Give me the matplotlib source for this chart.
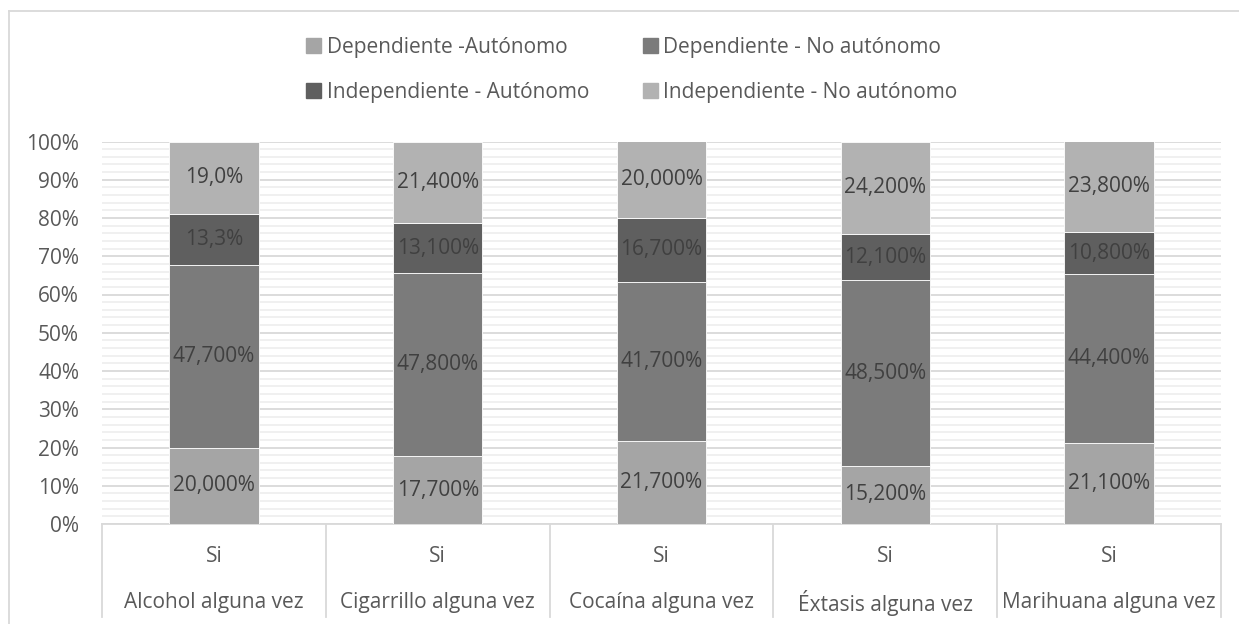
import matplotlib.pyplot as plt
from matplotlib.lines import Line2D
from matplotlib.patches import Patch
from matplotlib.ticker import MultipleLocator, PercentFormatter

# data (percent)
categories = ['Alcohol alguna vez', 'Cigarrillo alguna vez', 'Cocaína alguna vez',
              'Éxtasis alguna vez', 'Marihuana alguna vez']
sub_label = 'Si'
series_names = ['Dependiente -Autónomo', 'Dependiente - No autónomo',
                'Independiente - Autónomo', 'Independiente - No autónomo']
dep_aut = [20.0, 17.7, 21.7, 15.2, 21.1]
dep_noaut = [47.7, 47.8, 41.7, 48.5, 44.4]
ind_aut = [13.3, 13.1, 16.7, 12.1, 10.8]
ind_noaut = [19.0, 21.4, 20.0, 24.2, 23.8]
labels_dep_aut = ['20,000%', '17,700%', '21,700%', '15,200%', '21,100%']
labels_dep_noaut = ['47,700%', '47,800%', '41,700%', '48,500%', '44,400%']
labels_ind_aut = ['13,3%', '13,100%', '16,700%', '12,100%', '10,800%']
labels_ind_noaut = ['19,0%', '21,400%', '20,000%', '24,200%', '23,800%']

colors = ['#a5a5a5', '#7b7b7b', '#5f5f5f', '#b2b2b2']
txt = '#595959'
fs = 15
plt.rcParams['font.family'] = ['Open Sans', 'DejaVu Sans']

W, H = 1239, 624
fig = plt.figure(figsize=(W / 100, H / 100), dpi=100)
ax = fig.add_axes([102 / W, 1 - 524 / H, (1221 - 102) / W, (524 - 141.5) / H])

series = [dep_aut, dep_noaut, ind_aut, ind_noaut]
labels = [labels_dep_aut, labels_dep_noaut, labels_ind_aut, labels_ind_noaut]
x = list(range(len(categories)))
totals = [sum(s[i] for s in series) for i in x]
bottoms = [0.0] * len(x)
for s, lab, c, name in zip(series, labels, colors, series_names):
    vals = [s[i] / totals[i] * 100 for i in x]
    bars = ax.bar(x, vals, 0.4, bottom=bottoms, color=c, edgecolor='white',
                  linewidth=0.6, zorder=3, label=name)
    ax.bar_label(bars, labels=lab, label_type='center', color='#404040', fontsize=fs)
    bottoms = [b + v for b, v in zip(bottoms, vals)]

ax.set_xlim(-0.5, len(categories) - 0.5)
ax.set_ylim(0, 100)
ax.yaxis.set_major_locator(MultipleLocator(10))
ax.yaxis.set_minor_locator(MultipleLocator(2))
ax.yaxis.set_major_formatter(PercentFormatter(decimals=0))
ax.grid(axis='y', which='major', color='#d9d9d9', linewidth=1.3, zorder=0)
ax.grid(axis='y', which='minor', color='#efefef', linewidth=1.3, zorder=0)
ax.tick_params(axis='y', which='both', length=0, labelsize=fs, labelcolor=txt, pad=16.5)
ax.set_xticks([])
for sp in ['top', 'right', 'left']:
    ax.spines[sp].set_visible(False)
ax.spines['bottom'].set_color('#d9d9d9')
ax.spines['bottom'].set_linewidth(1.3)

# two-level category axis
tr = ax.get_xaxis_transform()
for k in range(len(categories) + 1):
    ax.add_line(Line2D([k - 0.5, k - 0.5], [0, -0.243], transform=tr,
                       color='#d9d9d9', linewidth=1.3, clip_on=False))
for i, cat in enumerate(categories):
    ax.text(i, -0.084, sub_label, transform=tr, ha='center', va='center',
            color=txt, fontsize=fs)
    ax.text(i, -0.206, cat, transform=tr, ha='center', va='center',
            color=txt, fontsize=fs)

# legend: row-wise order in 2 columns
handles = [Patch(color=c) for c in colors]
order = [0, 2, 1, 3]
fig.legend([handles[i] for i in order], [series_names[i] for i in order],
           loc='center', bbox_to_anchor=(632 / W, 1 - 70 / H), ncol=2, frameon=False,
           fontsize=fs, labelcolor=txt, handlelength=0.72, handleheight=0.72,
           handletextpad=0.25, columnspacing=2.6, labelspacing=1.15)

# chart border
fig.add_artist(Line2D([9 / W, 1], [1 - 10.5 / H, 1 - 10.5 / H], color='#d9d9d9', linewidth=1.3))
fig.add_artist(Line2D([9 / W, 9 / W], [0, 1 - 10.5 / H], color='#d9d9d9', linewidth=1.3))

fig.savefig('out.png', dpi=100)
